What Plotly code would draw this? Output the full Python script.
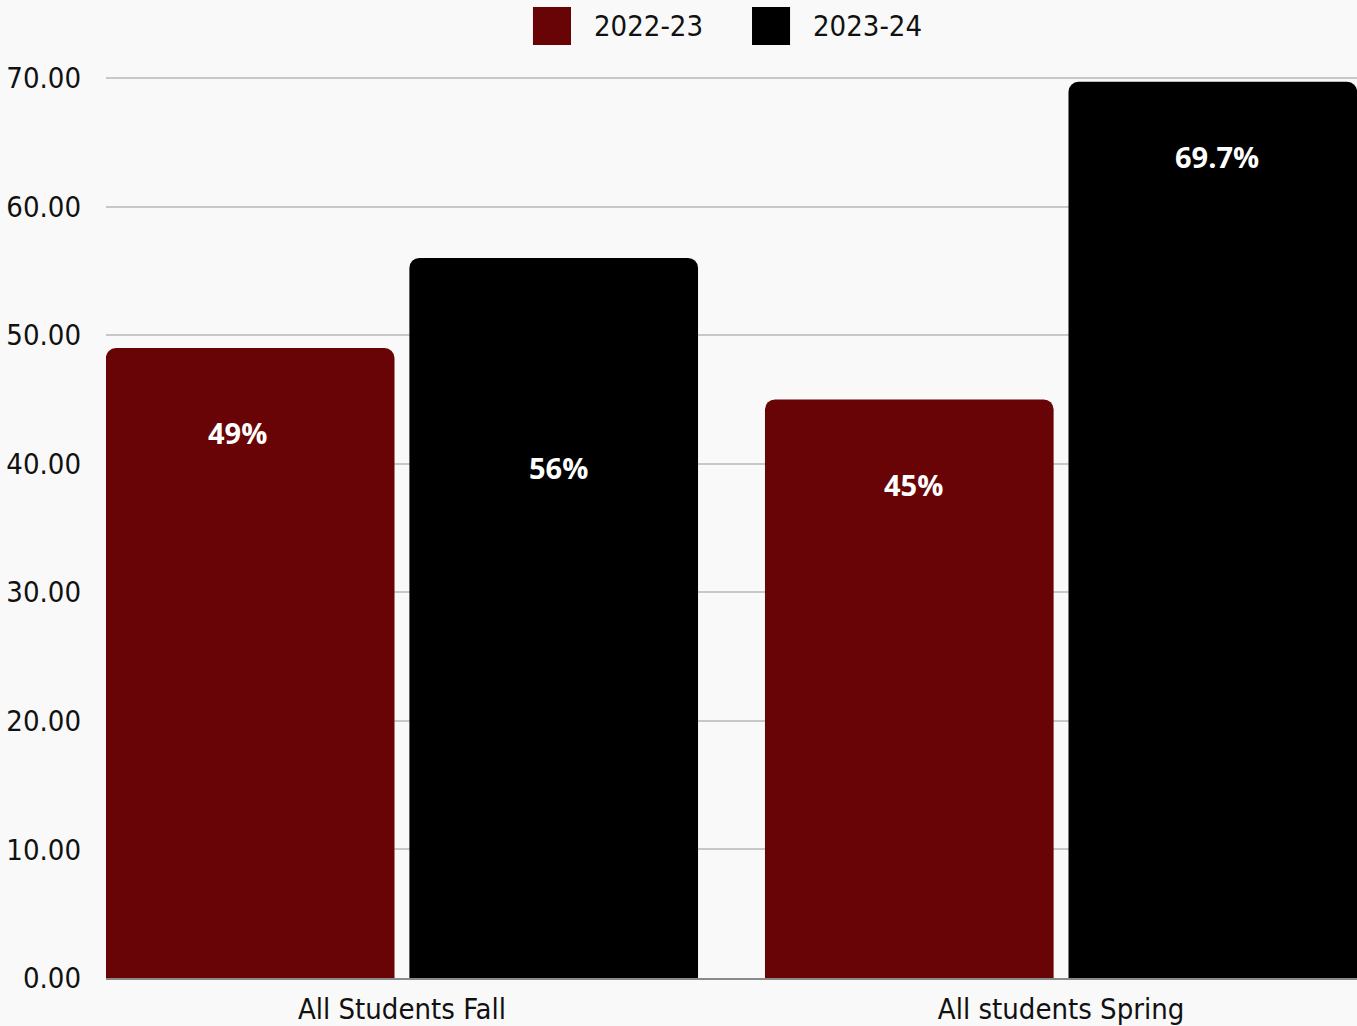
import plotly.graph_objects as go

# Chart data
categories = ["All Students Fall", "All students Spring"]
series_names = ["2022-23", "2023-24"]
values_2022_23 = [49, 45]
values_2023_24 = [56, 69.7]
labels_2022_23 = ["49%", "45%"]
labels_2023_24 = ["56%", "69.7%"]
y_ticks = [0, 10, 20, 30, 40, 50, 60, 70]

colors = ["#690406", "#000000"]
tick_font = "Liberation Sans Narrow, DejaVu Sans Condensed, Arial Narrow, sans-serif"
label_font = "Open Sans, Noto Sans, sans-serif"

fig = go.Figure()
fig.add_trace(go.Bar(x=categories, y=values_2022_23, name=series_names[0],
                     marker=dict(color=colors[0], line=dict(width=0)),
                     showlegend=False))
fig.add_trace(go.Bar(x=categories, y=values_2023_24, name=series_names[1],
                     marker=dict(color=colors[1], line=dict(width=0)),
                     showlegend=False))

# Value labels inside the bars, offset from the top of each bar
bar_offset = 0.2245  # half of a bar slot in category units
label_sets = [
    (values_2022_23, labels_2022_23, -bar_offset, [-85, -85], [-16, 0]),
    (values_2023_24, labels_2023_24, bar_offset, [-210, -75], [9, 8]),
]
for vals, texts, dx, yshifts, xshifts in label_sets:
    for i, (v, t) in enumerate(zip(vals, texts)):
        fig.add_annotation(x=i + dx, y=v, text=f"<b>{t}</b>", showarrow=False,
                           xref="x", yref="y", yshift=yshifts[i], xshift=xshifts[i],
                           font=dict(family=label_font, size=29, color="white"))

# Legend drawn as square swatches with text
legend_items = [(0.3413, 0.3717, 0.3885), (0.5164, 0.5468, 0.5636)]
for (x0, x1, xt), name, col in zip(legend_items, series_names, colors):
    fig.add_shape(type="rect", xref="paper", yref="paper",
                  x0=x0, x1=x1, y0=1.0345, y1=1.0765,
                  fillcolor=col, line=dict(width=0), layer="above")
    fig.add_annotation(xref="paper", yref="paper", x=xt, y=1.0555,
                       xanchor="left", yanchor="middle", text=name,
                       showarrow=False,
                       font=dict(family=tick_font, size=29, color="#111111"))

fig.update_layout(
    width=1357, height=1026,
    margin=dict(l=106, r=0, t=76, b=48),
    paper_bgcolor="#f9f9f9",
    plot_bgcolor="#f9f9f9",
    barmode="group",
    bargap=0.079,
    bargroupgap=0.049,
    barcornerradius=10,
    showlegend=False,
    font=dict(family=tick_font, size=29, color="#111111"),
)
fig.update_xaxes(
    type="category",
    range=[-0.449, 1.449],
    showgrid=False,
    showline=True, linecolor="#8a8a8a", linewidth=2,
    ticks="",
    tickfont=dict(family=tick_font, size=29, color="#111111"),
    ticklabelstandoff=4,
)
fig.update_yaxes(
    range=[0, 70.15],
    tickvals=y_ticks,
    tickformat=".2f",
    showgrid=True, gridcolor="#c8c8c8", gridwidth=1.5,
    zeroline=False,
    ticks="",
    ticklabelstandoff=24,
    tickfont=dict(family=tick_font, size=29, color="#111111"),
)

fig.write_html("out.html")
